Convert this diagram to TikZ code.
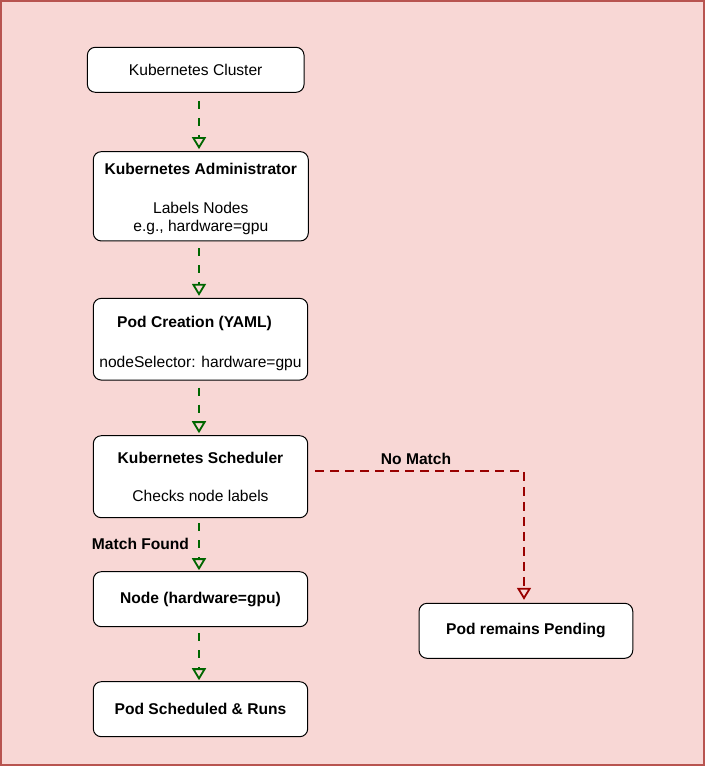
\documentclass[tikz,border=0pt]{standalone}
\usepackage{fontspec}
\setmainfont{Liberation Sans}
\usetikzlibrary{arrows.meta}
\definecolor{bgpink}{RGB}{248,215,213}
\definecolor{bgborder}{RGB}{184,84,80}
\definecolor{flowgreen}{RGB}{0,102,0}
\definecolor{flowred}{RGB}{153,0,0}
\tikzset{
  box/.style={draw=black, line width=1pt, fill=white, rounded corners=8pt,
    inner sep=0pt, align=center, font=\fontsize{15.6}{18.3}\selectfont},
  greenflow/.style={draw=flowgreen, line width=2.4pt, dash pattern=on 8pt off 9pt,
    -{Triangle[open, length=12pt, width=14pt, line width=1.8pt]}},
  redflow/.style={draw=flowred, line width=2.4pt, dash pattern=on 9pt off 6pt,
    -{Triangle[open, length=12pt, width=14pt, line width=1.8pt]}},
  flowlabel/.style={font=\bfseries\fontsize{15.6}{18.3}\selectfont, inner sep=0pt}
}
\begin{document}
\begin{tikzpicture}[x=1pt, y=-1pt]
\useasboundingbox (0,0) rectangle (705,766);
\draw[fill=bgpink, draw=bgborder, line width=1.6pt] (1,1) rectangle (704,765);

\node[box, minimum width=216.7pt, minimum height=45pt] (cluster) at (195.7,69.8) {Kubernetes Cluster};
\node[box, minimum width=215pt, minimum height=89.3pt] (admin) at (200.8,196.3)
  {\rule{0pt}{17pt}\textbf{Kubernetes Administrator}\\[20pt]Labels Nodes\\e.g., hardware=gpu};
\node[box, minimum width=214.4pt, minimum height=81.7pt] (pod) at (200.5,339.2)
  {\rule{0pt}{20pt}\hspace*{-12pt}\textbf{Pod Creation (YAML)}\\[21pt]nodeSelector: hardware=gpu};
\node[box, minimum width=214.4pt, minimum height=82pt] (sched) at (200.5,476.7)
  {\textbf{Kubernetes Scheduler}\\[20pt]Checks node labels};
\node[box, minimum width=214.4pt, minimum height=55pt, font=\bfseries\fontsize{15.6}{18.3}\selectfont] (gpunode) at (200.5,599.2) {Node (hardware=gpu)};
\node[box, minimum width=214.4pt, minimum height=55pt, font=\bfseries\fontsize{15.6}{18.3}\selectfont] (run) at (200.5,709.2) {Pod Scheduled \& Runs};
\node[box, minimum width=213.7pt, minimum height=55pt, font=\bfseries\fontsize{15.6}{18.3}\selectfont] (pending) at (525.9,630.8) {Pod remains Pending};

\draw[greenflow, shorten <=8pt, shorten >=2pt] ([xshift=3.3pt]cluster.south) -- ([xshift=-1.8pt]admin.north);
\draw[greenflow, shorten <=7pt, shorten >=2pt] ([xshift=-1.8pt]admin.south) -- ([xshift=-1.5pt]pod.north);
\draw[greenflow, shorten <=7pt, shorten >=2pt] ([xshift=-1.5pt]pod.south) -- ([xshift=-1.5pt]sched.north);
\draw[greenflow, shorten <=5pt, shorten >=1pt] ([xshift=-1.5pt]sched.south) -- ([xshift=-1.5pt]gpunode.north);
\draw[greenflow, shorten <=6pt, shorten >=1pt] ([xshift=-1.5pt]gpunode.south) -- ([xshift=-1.5pt]run.north);

\coordinate (bend) at (524,470.7);
\draw[redflow, shorten <=7pt, shorten >=3pt] ([yshift=6pt]sched.east) -- (bend) -- ([xshift=-1.9pt]pending.north);

\node[flowlabel] (nomatch) at (416,459.3) {No Match};
\node[flowlabel] (matchfound) at (140.5,544.3) {Match Found};
\end{tikzpicture}
\end{document}
